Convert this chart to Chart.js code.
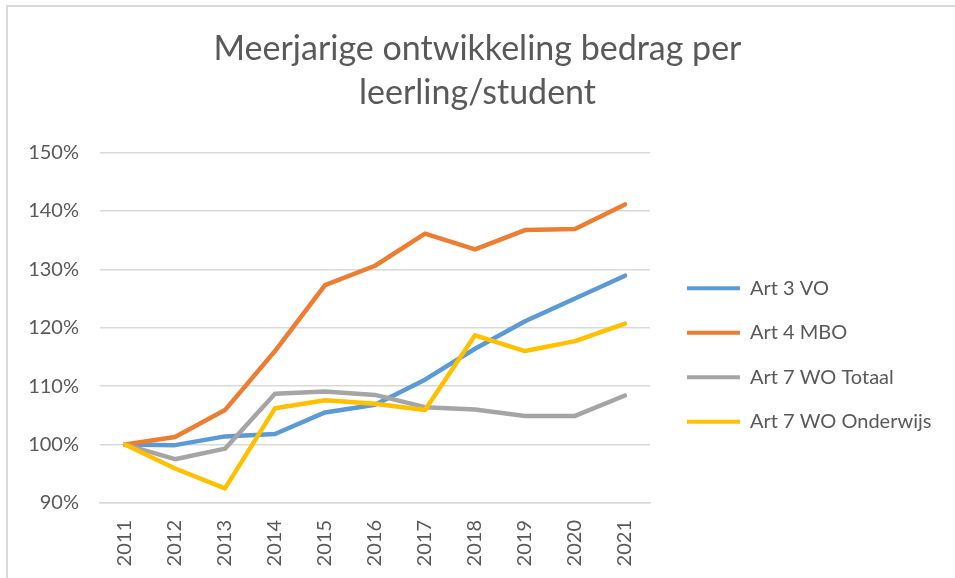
<!DOCTYPE html>
<html>
<head>
<meta charset="utf-8">
<script src="https://cdn.jsdelivr.net/npm/chart.js@4/dist/chart.umd.min.js"></script>
<style>
    body { margin: 0; background: #fff; overflow: hidden; }
    #frame { position: absolute; left: 6px; top: 5px; width: 1000px; height: 700px; border: 2px solid #d9d9d9; }
    #wrap { position: absolute; left: 0; top: 0; width: 955px; height: 578px; }
</style>
</head>
<body>
<div id="frame"></div>
<div id="wrap"><canvas id="lineChart"></canvas></div>
<script>
    // data (index, 2011 = 100%)
    var years = ['2011', '2012', '2013', '2014', '2015', '2016', '2017', '2018', '2019', '2020', '2021'];
    var art3VO = [100, 99.9, 101.4, 101.8, 105.5, 106.8, 111.1, 116.4, 121.1, 125.0, 128.9];
    var art4MBO = [100, 101.3, 105.9, 116.0, 127.3, 130.6, 136.1, 133.4, 136.7, 136.9, 141.1];
    var art7WOTotaal = [100, 97.5, 99.3, 108.7, 109.1, 108.5, 106.4, 106.0, 104.9, 104.9, 108.4];
    var art7WOOnderwijs = [100, 95.9, 92.5, 106.2, 107.6, 107.0, 105.9, 118.7, 116.0, 117.7, 120.7];
    var yTicks = [90, 100, 110, 120, 130, 140, 150];

    var textColor = '#595959';
    Chart.defaults.font.family = 'Lato';
    Chart.defaults.color = textColor;

    function series(label, data, color, order) {
        return {
            label: label,
            data: data,
            borderColor: color,
            backgroundColor: color,
            borderWidth: 4.5,
            borderJoinStyle: 'round',
            borderCapStyle: 'round',
            pointRadius: 0,
            tension: 0,
            order: order
        };
    }

    // legend gets a fixed column on the right, like Excel, and is nudged into place
    var legendWidth = 305;
    var legendPlace = {
        id: 'legendPlace',
        afterInit: function (chart) {
            var lg = chart.legend;
            var origUpdate = lg.update;
            var origFit = lg.fit;
            lg.update = function (maxWidth, maxHeight, margins) {
                return origUpdate.call(this, legendWidth, maxHeight, margins);
            };
            lg.fit = function () {
                origFit.call(this);
                this.width = legendWidth;
            };
        },
        afterLayout: function (chart) {
            var lg = chart.legend;
            var w = lg.right - lg.left;
            lg.left = 687 - lg.options.labels.padding;
            lg.right = lg.left + w;
            lg.top += 66;
            lg.bottom += 66;
        }
    };

    var ctx = document.getElementById('lineChart').getContext('2d');
    var myLineChart = new Chart(ctx, {
        type: 'line',
        data: {
            labels: years,
            datasets: [
                series('Art 3 VO', art3VO, '#5B9BD5', 3),
                series('Art 4 MBO', art4MBO, '#ED7D31', 2),
                series('Art 7 WO Totaal', art7WOTotaal, '#A5A5A5', 1),
                series('Art 7 WO Onderwijs', art7WOOnderwijs, '#FFC000', 0)
            ]
        },
        plugins: [legendPlace],
        options: {
            responsive: true,
            maintainAspectRatio: false,
            animation: false,
            layout: { padding: { left: 0, right: 0, top: 0, bottom: 0 } },
            plugins: {
                title: {
                    display: true,
                    text: ['Meerjarige ontwikkeling bedrag per', 'leerling/student'],
                    color: textColor,
                    font: { size: 34, weight: 'normal', lineHeight: 1.3 },
                    padding: { top: 27, bottom: 37 }
                },
                legend: {
                    position: 'right',
                    labels: {
                        boxWidth: 53,
                        boxHeight: 4,
                        padding: 24.5,
                        color: textColor,
                        font: { size: 20 },
                        sort: function (a, b) { return a.datasetIndex - b.datasetIndex; },
                        generateLabels: function (chart) {
                            var items = Chart.defaults.plugins.legend.labels.generateLabels(chart);
                            items.forEach(function (it) {
                                it.lineWidth = 0;
                                it.fillStyle = it.strokeStyle;
                            });
                            return items;
                        }
                    }
                },
                tooltip: { enabled: false }
            },
            scales: {
                x: {
                    offset: true,
                    grid: { display: false, drawTicks: false },
                    border: { display: true, color: '#d9d9d9', width: 1.5 },
                    ticks: {
                        autoSkip: false,
                        minRotation: 90,
                        maxRotation: 90,
                        padding: 17,
                        color: textColor,
                        font: { size: 20 }
                    },
                    afterFit: function (axis) { axis.height = 75; }
                },
                y: {
                    min: yTicks[0],
                    max: yTicks[yTicks.length - 1],
                    grid: { color: '#d9d9d9', lineWidth: 1.5, drawTicks: false },
                    border: { display: false },
                    ticks: {
                        stepSize: 10,
                        padding: 21,
                        color: textColor,
                        font: { size: 20 },
                        callback: function (v) { return v + '%'; }
                    },
                    afterFit: function (axis) { axis.width = 100; }
                }
            }
        }
    });
</script>
</body>
</html>
